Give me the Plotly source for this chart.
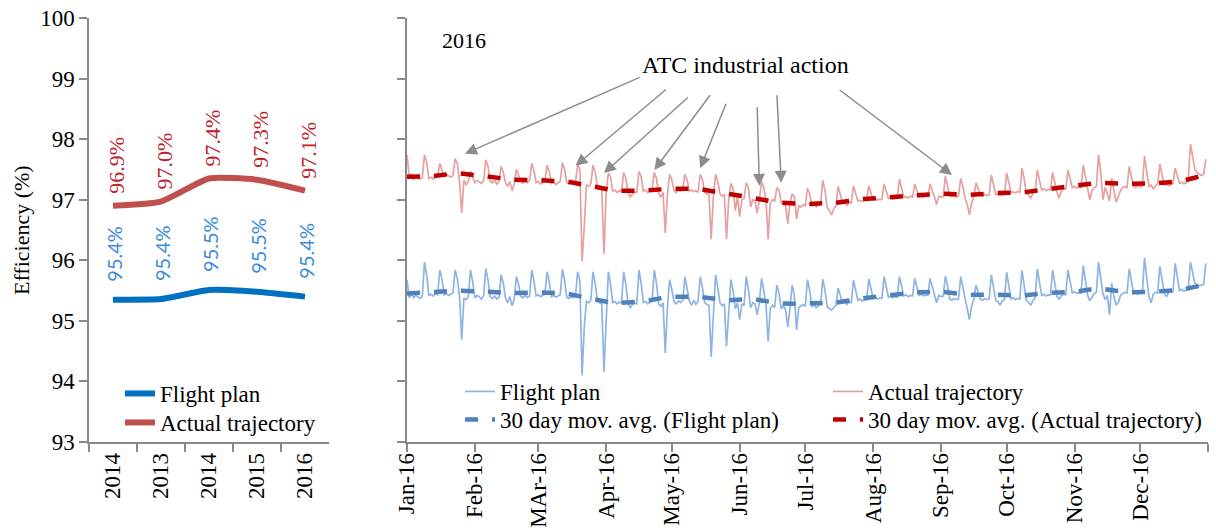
import pandas as pd
import plotly.graph_objects as go

# ---------------- data: left panel (annual) ----------------
year_labels = ["2014", "2013", "2014", "2015", "2016"]
year_pos = [0, 1, 2, 3, 4]
annual_flight_plan = [95.35, 95.36, 95.51, 95.48, 95.40]
annual_actual = [96.90, 96.97, 97.35, 97.33, 97.15]
annual_flight_plan_text = ["95.4%", "95.4%", "95.5%", "95.5%", "95.4%"]
annual_actual_text = ["96.9%", "97.0%", "97.4%", "97.3%", "97.1%"]

# ---------------- data: right panel (daily 2016) ----------------
daily_start = "2016-01-01"
daily_actual = [
    97.74, 97.40, 97.42,
    97.33, 97.38, 97.36, 97.34, 97.37, 97.74, 97.62,
    97.35, 97.37, 97.34, 97.38, 97.40, 97.60, 97.50,
    97.38, 97.42, 97.40, 97.37, 97.40, 97.68, 97.60,
    97.30, 96.78, 97.32, 97.25, 97.30, 97.47, 97.38,
    97.28, 97.32, 97.30, 97.27, 97.31, 97.66, 97.55,
    97.31, 97.28, 97.32, 97.26, 97.30, 97.55, 97.45,
    97.28, 97.22, 97.30, 97.15, 97.26, 97.50, 97.40,
    97.30, 97.27, 97.31, 97.28, 97.32, 97.60, 97.48,
    97.28, 97.30, 97.26, 97.29, 97.31, 97.57, 97.46,
    97.27, 97.29, 97.25, 97.28, 97.30, 97.61, 97.50,
    97.28, 97.26, 97.29, 97.27, 97.30, 97.58, 97.50,
    95.98, 96.55, 97.25, 97.22, 97.26, 97.57, 97.45,
    97.22, 97.20, 97.18, 96.10, 97.10, 97.44, 97.38,
    97.14, 97.16, 97.12, 97.15, 97.13, 97.45, 97.35,
    97.12, 97.05, 97.10, 97.13, 97.12, 97.47, 97.38,
    97.14, 97.16, 97.12, 97.15, 97.17, 97.45, 97.35,
    97.10, 97.05, 97.12, 96.45, 97.08, 97.42, 97.33,
    97.15, 97.12, 97.16, 97.14, 97.18, 97.42, 97.32,
    97.14, 97.16, 97.13, 97.15, 97.12, 97.42, 97.33,
    97.12, 97.10, 97.08, 96.35, 97.05, 97.42, 97.30,
    97.10, 97.06, 97.08, 96.35, 97.00, 97.27, 97.18,
    96.82, 97.05, 96.72, 97.00, 97.02, 97.28, 97.20,
    96.88, 97.00, 96.98, 96.78, 97.00, 97.30, 97.20,
    97.00, 96.35, 96.95, 97.00, 96.98, 97.20, 97.15,
    96.95, 96.92, 96.90, 96.60, 96.95, 97.10, 97.05,
    96.68, 96.90, 96.88, 96.92, 96.90, 97.19, 97.10,
    96.90, 96.92, 96.88, 96.91, 96.93, 97.32, 97.15,
    96.88, 96.80, 96.75, 96.85, 96.90, 97.22, 97.10,
    96.95, 96.98, 96.90, 96.96, 96.95, 97.23, 97.12,
    96.98, 96.99, 96.97, 97.00, 96.98, 97.23, 97.12,
    97.00, 97.02, 96.99, 97.01, 97.00, 97.26, 97.15,
    97.02, 97.04, 97.01, 97.03, 97.02, 97.34, 97.20,
    97.04, 97.05, 97.03, 97.06, 97.04, 97.26, 97.16,
    97.05, 97.06, 97.04, 97.07, 97.05, 97.26, 97.16,
    97.05, 96.92, 97.06, 97.04, 97.05, 97.39, 97.22,
    97.06, 97.05, 97.07, 97.04, 97.06, 97.35, 97.22,
    97.02, 96.92, 96.75, 96.95, 97.05, 97.28, 97.18,
    97.08, 97.06, 97.09, 97.07, 97.08, 97.41, 97.25,
    97.08, 97.10, 97.07, 97.09, 97.08, 97.44, 97.28,
    97.12, 97.13, 97.11, 97.14, 97.12, 97.52, 97.35,
    97.10, 97.08, 97.03, 97.10, 97.13, 97.49, 97.32,
    97.16, 97.18, 97.15, 97.17, 97.16, 97.45, 97.30,
    97.12, 97.03, 97.15, 97.17, 97.18, 97.49, 97.35,
    97.20, 97.22, 97.19, 97.21, 97.20, 97.57, 97.40,
    97.18, 97.00, 97.15, 97.20, 97.22, 97.74, 97.45,
    97.00, 97.20, 97.10, 96.98, 97.35, 97.15, 96.96,
    97.05, 97.15, 97.20, 97.22, 97.20, 97.55, 97.38,
    97.22, 97.20, 97.24, 97.21, 97.23, 97.72, 97.45,
    97.22, 97.24, 97.18, 97.23, 97.25, 97.59, 97.40,
    97.24, 97.26, 97.23, 97.25, 97.27, 97.52, 97.38,
    97.27, 97.29, 97.26, 97.28, 97.35, 97.92, 97.70,
    97.50, 97.45, 97.43, 97.40, 97.42, 97.67,
]
daily_flight_plan = [
    95.68, 95.38, 95.45,
    95.38, 95.42, 95.40, 95.37, 95.41, 95.97, 95.75,
    95.42, 95.44, 95.41, 95.45, 95.43, 95.84, 95.68,
    95.43, 95.45, 95.42, 95.44, 95.46, 95.84, 95.70,
    95.40, 94.69, 95.38, 95.35, 95.40, 95.84, 95.65,
    95.38, 95.42, 95.40, 95.36, 95.41, 95.86, 95.68,
    95.40, 95.37, 95.41, 95.36, 95.39, 95.76, 95.62,
    95.38, 95.30, 95.40, 95.25, 95.36, 95.73, 95.60,
    95.40, 95.38, 95.42, 95.39, 95.41, 95.84, 95.66,
    95.41, 95.43, 95.40, 95.42, 95.44, 95.81, 95.64,
    95.40, 95.42, 95.39, 95.41, 95.43, 95.85, 95.68,
    95.39, 95.37, 95.40, 95.38, 95.41, 95.81, 95.66,
    94.10, 94.90, 95.32, 95.30, 95.34, 95.81, 95.62,
    95.32, 95.30, 95.28, 94.16, 95.15, 95.81, 95.60,
    95.30, 95.32, 95.28, 95.31, 95.29, 95.81, 95.60,
    95.29, 95.22, 95.27, 95.30, 95.28, 95.84, 95.62,
    95.30, 95.32, 95.28, 95.31, 95.33, 95.84, 95.62,
    95.28, 95.24, 95.30, 94.47, 95.22, 95.68, 95.52,
    95.32, 95.28, 95.33, 95.30, 95.34, 95.73, 95.55,
    95.33, 95.26, 95.34, 95.27, 95.32, 95.73, 95.55,
    95.30, 95.28, 95.25, 94.41, 95.20, 95.76, 95.55,
    95.30, 95.25, 95.28, 94.58, 95.15, 95.68, 95.50,
    95.20, 95.30, 95.02, 95.28, 95.25, 95.73, 95.52,
    95.22, 95.30, 95.28, 95.10, 95.30, 95.70, 95.50,
    95.28, 94.66, 95.20, 95.26, 95.22, 95.59, 95.45,
    95.20, 95.25, 95.18, 94.90, 95.22, 95.59, 95.42,
    94.85, 95.22, 95.25, 95.27, 95.24, 95.68, 95.50,
    95.24, 95.26, 95.22, 95.25, 95.27, 95.69, 95.50,
    95.24, 95.20, 95.18, 95.22, 95.26, 95.54, 95.42,
    95.30, 95.32, 95.27, 95.31, 95.30, 95.67, 95.50,
    95.34, 95.36, 95.33, 95.35, 95.34, 95.69, 95.52,
    95.37, 95.39, 95.36, 95.38, 95.37, 95.73, 95.55,
    95.39, 95.41, 95.38, 95.40, 95.39, 95.73, 95.56,
    95.41, 95.43, 95.40, 95.42, 95.41, 95.70, 95.55,
    95.42, 95.44, 95.41, 95.43, 95.42, 95.70, 95.55,
    95.40, 95.30, 95.42, 95.40, 95.41, 95.74, 95.58,
    95.36, 95.34, 95.37, 95.35, 95.36, 95.73, 95.55,
    95.35, 95.20, 95.02, 95.25, 95.36, 95.59, 95.48,
    95.36, 95.34, 95.37, 95.35, 95.36, 95.76, 95.58,
    95.34, 95.32, 95.26, 95.33, 95.35, 95.80, 95.60,
    95.36, 95.38, 95.35, 95.37, 95.36, 95.83, 95.62,
    95.34, 95.30, 95.26, 95.33, 95.38, 95.86, 95.65,
    95.42, 95.44, 95.41, 95.43, 95.42, 95.84, 95.64,
    95.40, 95.36, 95.42, 95.44, 95.43, 95.84, 95.65,
    95.46, 95.48, 95.45, 95.47, 95.46, 95.91, 95.70,
    95.42, 95.33, 95.40, 95.45, 95.47, 95.97, 95.70,
    95.45, 95.35, 95.42, 95.10, 95.62, 95.40, 95.26,
    95.30, 95.42, 95.45, 95.47, 95.46, 95.86, 95.66,
    95.45, 95.48, 95.44, 95.47, 95.46, 96.04, 95.72,
    95.40, 95.30, 95.44, 95.47, 95.46, 95.90, 95.68,
    95.46, 95.40, 95.47, 95.49, 95.48, 95.95, 95.70,
    95.50, 95.52, 95.49, 95.51, 95.55, 95.97, 95.80,
    95.62, 95.60, 95.58, 95.59, 95.60, 95.95,
]

ma_dates = [
    "2016-01-01", "2016-01-13", "2016-01-24", "2016-02-06", "2016-02-19",
    "2016-03-02", "2016-03-14", "2016-03-26", "2016-04-05", "2016-04-18",
    "2016-04-30", "2016-05-13", "2016-05-26", "2016-06-07", "2016-06-19",
    "2016-06-30", "2016-07-03", "2016-07-15", "2016-07-27", "2016-08-08",
    "2016-08-20", "2016-09-01", "2016-09-14", "2016-09-26", "2016-10-08",
    "2016-10-20", "2016-11-01", "2016-11-12", "2016-11-25", "2016-12-07",
    "2016-12-19", "2016-12-30",
]
ma_actual = [97.38, 97.39, 97.44, 97.38, 97.33, 97.32, 97.30, 97.22, 97.15, 97.15,
             97.18, 97.18, 97.11, 97.03, 96.95, 96.93, 96.93, 96.95, 97.01, 97.04,
             97.07, 97.10, 97.08, 97.11, 97.12, 97.18, 97.23, 97.28, 97.26, 97.27,
             97.30, 97.40]
ma_flight_plan = [95.45, 95.47, 95.50, 95.48, 95.46, 95.47, 95.45, 95.36, 95.29, 95.32,
                  95.40, 95.40, 95.34, 95.36, 95.29, 95.28, 95.29, 95.30, 95.37, 95.42,
                  95.47, 95.48, 95.43, 95.43, 95.42, 95.46, 95.48, 95.54, 95.47, 95.48,
                  95.51, 95.59]

month_tickvals = ["2016-01-01", "2016-02-01", "2016-03-01", "2016-04-01", "2016-05-01",
                  "2016-06-01", "2016-07-01", "2016-08-01", "2016-09-01", "2016-10-01",
                  "2016-11-01", "2016-12-01", "2017-01-01"]
month_ticktext = ["Jan-16", "Feb-16", "MAr-16", "Apr-16", "May-16", "Jun-16", "Jul-16",
                  "Aug-16", "Sep-16", "Oct-16", "Nov-16", "Dec-16", ""]
y_ticks = [93, 94, 95, 96, 97, 98, 99, 100]

# industrial action arrows (head -> points, tail -> label)
strike_head_dates = ["2016-01-27 12:00", "2016-03-18", "2016-03-31", "2016-04-23",
                     "2016-05-14", "2016-06-10", "2016-06-20", "2016-09-06"]
strike_head_values = [97.76, 97.56, 97.44, 97.49, 97.52, 97.23, 97.28, 97.41]
strike_tail_dates = ["2016-04-17", "2016-04-29", "2016-05-09", "2016-05-19",
                     "2016-05-26", "2016-06-09", "2016-06-18", "2016-07-16"]
strike_tail_values = [99.03, 98.84, 98.71, 98.75, 98.61, 98.55, 98.75, 98.83]

dates = pd.date_range(daily_start, periods=len(daily_actual), freq="D")

# ---------------- styling ----------------
W, H = 1216, 532
SERIF = "Liberation Serif"
AX = "#898989"
BLUE_THICK = "#0070C0"
RED_THICK = "#C0504D"
BLUE_THIN = "#8DB4E2"
RED_THIN = "#E6A0A0"
BLUE_MA = "#4F81BD"
RED_MA = "#C00000"

fig = go.Figure()

# left panel
fig.add_trace(go.Scatter(x=year_pos, y=annual_flight_plan, mode="lines", name="Flight plan",
                         line=dict(color=BLUE_THICK, width=6, shape="spline", smoothing=0.5),
                         xaxis="x", yaxis="y", legend="legend5"))
fig.add_trace(go.Scatter(x=year_pos, y=annual_actual, mode="lines", name="Actual trajectory",
                         line=dict(color=RED_THICK, width=6, shape="spline", smoothing=0.5),
                         xaxis="x", yaxis="y", legend="legend6"))

# right panel
fig.add_trace(go.Scatter(x=dates, y=daily_flight_plan, mode="lines", name="Flight plan",
                         line=dict(color=BLUE_THIN, width=1.7), xaxis="x2", yaxis="y2",
                         legend="legend"))
fig.add_trace(go.Scatter(x=pd.to_datetime(ma_dates), y=ma_flight_plan, mode="lines",
                         name="30 day mov. avg. (Flight plan)",
                         line=dict(color=BLUE_MA, width=4.5, dash="13px,14px"),
                         xaxis="x2", yaxis="y2", legend="legend3"))
fig.add_trace(go.Scatter(x=dates, y=daily_actual, mode="lines", name="Actual trajectory",
                         line=dict(color=RED_THIN, width=1.7), xaxis="x2", yaxis="y2",
                         legend="legend2"))
fig.add_trace(go.Scatter(x=pd.to_datetime(ma_dates), y=ma_actual, mode="lines",
                         name="30 day mov. avg. (Actual trajectory)",
                         line=dict(color=RED_MA, width=4.5, dash="13px,14px"),
                         xaxis="x2", yaxis="y2", legend="legend4"))

annotations = []
for i, (v, t) in enumerate(zip(annual_actual, annual_actual_text)):
    annotations.append(dict(x=year_pos[i], y=v, xref="x", yref="y", text=t, showarrow=False,
                            textangle=-90, yanchor="middle", xanchor="center", yshift=40, xshift=4,
                            font=dict(family=SERIF, size=22, color="#C0202A")))
for i, (v, t) in enumerate(zip(annual_flight_plan, annual_flight_plan_text)):
    annotations.append(dict(x=year_pos[i], y=v, xref="x", yref="y", text=t, showarrow=False,
                            textangle=-90, yanchor="middle", xanchor="center", yshift=46, xshift=1,
                            font=dict(family="Lato", size=20, color="#3C8BDB")))
for hx, hy, tx, ty in zip(strike_head_dates, strike_head_values, strike_tail_dates, strike_tail_values):
    annotations.append(dict(x=hx, y=hy, xref="x2", yref="y2", ax=tx, ay=ty, axref="x2", ayref="y2",
                            text="", showarrow=True, arrowhead=2, arrowsize=1.6, arrowwidth=1.5,
                            arrowcolor="#8C8C8C"))
annotations.append(dict(x=22 / W, y=(H - 230) / H, xref="paper", yref="paper", text="Efficiency (%)",
                        showarrow=False, textangle=-90, xanchor="center", yanchor="middle",
                        font=dict(family=SERIF, size=22, color="black")))
annotations.append(dict(x=440 / W, y=(H - 40) / H, xref="paper", yref="paper", text="2016",
                        showarrow=False, xanchor="left", yanchor="middle",
                        font=dict(family=SERIF, size=22, color="black")))
annotations.append(dict(x=745 / W, y=(H - 65) / H, xref="paper", yref="paper",
                        text="ATC industrial action", showarrow=False, xanchor="center",
                        yanchor="middle", font=dict(family=SERIF, size=24, color="black")))

axis_common = dict(showline=True, linecolor=AX, linewidth=1.5, ticks="outside", ticklen=8,
                   tickcolor=AX, tickwidth=1.5, showgrid=False, zeroline=False, automargin=False,
                   tickfont=dict(family=SERIF, size=23, color="black"))


def legend_box(x_px, top_px):
    return dict(x=x_px / W, y=(H - top_px) / H, xanchor="left", yanchor="top",
                bgcolor="rgba(0,0,0,0)", font=dict(family=SERIF, size=23, color="black"),
                tracegroupgap=0)


y_dom = [(H - 442) / H, (H - 18) / H]
fig.update_layout(
    width=W, height=H, margin=dict(l=0, r=0, t=0, b=0),
    paper_bgcolor="white", plot_bgcolor="white",
    font=dict(family=SERIF, size=22, color="black"),
    xaxis=dict(domain=[89 / W, 329 / W], anchor="y", type="category", tickvals=year_pos,
               ticktext=year_labels, tickson="boundaries", tickangle=-90,
               range=[-0.5, 4.5], **axis_common),
    yaxis=dict(domain=y_dom, anchor="x", range=[93, 100], tickvals=y_ticks, **axis_common),
    xaxis2=dict(domain=[407 / W, 1208 / W], anchor="y2", type="date",
                range=["2016-01-01", "2017-01-01"], tickvals=month_tickvals,
                ticktext=month_ticktext, tickangle=-90, ticklabelstandoff=-8, **axis_common),
    yaxis2=dict(domain=y_dom, anchor="x2", range=[93, 100], tickvals=y_ticks,
                showticklabels=False, **axis_common),
    showlegend=True,
    legend=legend_box(460, 370),
    legend3=legend_box(460, 398),
    legend2=legend_box(828, 370),
    legend4=legend_box(828, 398),
    legend5=legend_box(120, 372),
    legend6=legend_box(120, 401),
    annotations=annotations,
)

fig.write_html("out.html", config={"displayModeBar": False},
               post_script="document.body.style.margin='0';document.body.style.overflow='hidden';")
